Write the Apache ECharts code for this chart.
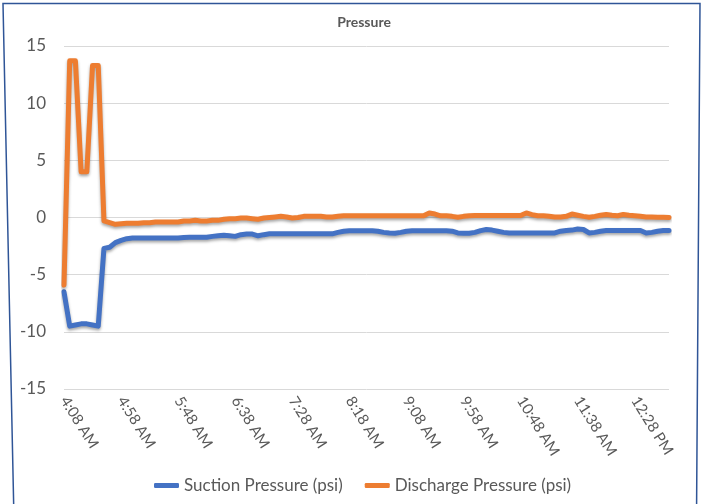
<!DOCTYPE html>
<html>
<head>
<meta charset="utf-8">
<script src="https://cdn.jsdelivr.net/npm/echarts@6/dist/echarts.min.js"></script>
<style>
  html, body { margin: 0; padding: 0; background: #fff; }
  #chart { width: 702px; height: 504px; }
</style>
</head>
<body>
<div id="chart"></div>
<script>
var times = [
    '4:08 AM', '4:13 AM', '4:18 AM', '4:23 AM', '4:28 AM', '4:33 AM', '4:38 AM', '4:43 AM', '4:48 AM', '4:53 AM',
    '4:58 AM', '5:03 AM', '5:08 AM', '5:13 AM', '5:18 AM', '5:23 AM', '5:28 AM', '5:33 AM', '5:38 AM', '5:43 AM',
    '5:48 AM', '5:53 AM', '5:58 AM', '6:03 AM', '6:08 AM', '6:13 AM', '6:18 AM', '6:23 AM', '6:28 AM', '6:33 AM',
    '6:38 AM', '6:43 AM', '6:48 AM', '6:53 AM', '6:58 AM', '7:03 AM', '7:08 AM', '7:13 AM', '7:18 AM', '7:23 AM',
    '7:28 AM', '7:33 AM', '7:38 AM', '7:43 AM', '7:48 AM', '7:53 AM', '7:58 AM', '8:03 AM', '8:08 AM', '8:13 AM',
    '8:18 AM', '8:23 AM', '8:28 AM', '8:33 AM', '8:38 AM', '8:43 AM', '8:48 AM', '8:53 AM', '8:58 AM', '9:03 AM',
    '9:08 AM', '9:13 AM', '9:18 AM', '9:23 AM', '9:28 AM', '9:33 AM', '9:38 AM', '9:43 AM', '9:48 AM', '9:53 AM',
    '9:58 AM', '10:03 AM', '10:08 AM', '10:13 AM', '10:18 AM', '10:23 AM', '10:28 AM', '10:33 AM', '10:38 AM', '10:43 AM',
    '10:48 AM', '10:53 AM', '10:58 AM', '11:03 AM', '11:08 AM', '11:13 AM', '11:18 AM', '11:23 AM', '11:28 AM', '11:33 AM',
    '11:38 AM', '11:43 AM', '11:48 AM', '11:53 AM', '11:58 AM', '12:03 PM', '12:08 PM', '12:13 PM', '12:18 PM', '12:23 PM',
    '12:28 PM', '12:33 PM', '12:38 PM', '12:43 PM', '12:48 PM', '12:53 PM', '12:58 PM'
];

var suction = [
    -6.5, -9.5, -9.4, -9.3, -9.3, -9.4, -9.5, -2.7, -2.6, -2.2,
    -2.0, -1.85, -1.8, -1.8, -1.8, -1.8, -1.8, -1.8, -1.8, -1.8,
    -1.8, -1.75, -1.72, -1.72, -1.72, -1.72, -1.65, -1.6, -1.55, -1.6,
    -1.65, -1.5, -1.45, -1.45, -1.6, -1.5, -1.43, -1.43, -1.43, -1.43,
    -1.43, -1.43, -1.43, -1.43, -1.43, -1.43, -1.43, -1.43, -1.3, -1.2,
    -1.15, -1.15, -1.15, -1.15, -1.15, -1.2, -1.3, -1.35, -1.37, -1.3,
    -1.2, -1.15, -1.15, -1.15, -1.15, -1.15, -1.15, -1.15, -1.2, -1.35,
    -1.37, -1.37, -1.3, -1.15, -1.05, -1.1, -1.2, -1.3, -1.35, -1.35,
    -1.35, -1.35, -1.35, -1.35, -1.35, -1.35, -1.35, -1.2, -1.14, -1.1,
    -1.0, -1.05, -1.35, -1.3, -1.2, -1.14, -1.14, -1.14, -1.14, -1.14,
    -1.14, -1.14, -1.35, -1.3, -1.2, -1.14, -1.14
];

var discharge = [
    -5.9, 13.7, 13.7, 4.0, 4.0, 13.3, 13.3, -0.3, -0.45, -0.6,
    -0.55, -0.5, -0.5, -0.5, -0.45, -0.45, -0.4, -0.4, -0.4, -0.4,
    -0.4, -0.3, -0.3, -0.25, -0.3, -0.3, -0.25, -0.25, -0.15, -0.1,
    -0.1, -0.05, -0.05, -0.1, -0.15, -0.05, 0.0, 0.05, 0.1, 0.05,
    -0.05, 0.0, 0.1, 0.1, 0.1, 0.1, 0.05, 0.05, 0.1, 0.15,
    0.15, 0.15, 0.15, 0.15, 0.15, 0.15, 0.15, 0.15, 0.15, 0.15,
    0.15, 0.15, 0.15, 0.15, 0.4, 0.3, 0.15, 0.15, 0.1, 0.03,
    0.1, 0.15, 0.17, 0.17, 0.17, 0.17, 0.17, 0.17, 0.17, 0.17,
    0.17, 0.4, 0.25, 0.15, 0.15, 0.1, 0.05, 0.05, 0.1, 0.3,
    0.2, 0.1, 0.03, 0.1, 0.2, 0.27, 0.2, 0.15, 0.27, 0.2,
    0.15, 0.1, 0.05, 0.05, 0.03, 0.03, 0.0
];

var yTicks = { min: -15, max: 15, step: 5 };

var textColor = '#595959';
var fontName = 'Lato';

var chart = echarts.init(document.getElementById('chart'));

function makeSeries(name, data, color) {
    return {
        name: name,
        type: 'line',
        data: data,
        showSymbol: false,
        symbol: 'none',
        lineStyle: {
            color: color,
            width: 5,
            cap: 'round',
            join: 'round',
            shadowColor: 'rgba(0,0,0,0.35)',
            shadowBlur: 3,
            shadowOffsetY: 2
        },
        itemStyle: { color: color },
        animation: false
    };
}

chart.setOption({
    animation: false,
    title: {
        text: 'Pressure',
        left: 359,
        top: 10,
        textAlign: 'center',
        textStyle: { fontFamily: fontName, fontSize: 14, fontWeight: 'bold', color: textColor }
    },
    legend: {
        bottom: 5,
        left: 149,
        icon: 'roundRect',
        itemWidth: 25,
        itemHeight: 5,
        itemGap: 22,
        textStyle: { fontFamily: fontName, fontSize: 17, color: textColor },
        data: ['Suction Pressure (psi)', 'Discharge Pressure (psi)']
    },
    grid: { left: 64, right: 33, top: 46, bottom: 115, containLabel: false },
    xAxis: {
        type: 'category',
        data: times,
        boundaryGap: false,
        axisLine: { lineStyle: { color: '#d9d9d9' } },
        axisTick: { show: false },
        axisLabel: {
            interval: 9,
            rotate: -58,
            margin: 9,
            fontFamily: fontName,
            fontSize: 15,
            color: textColor
        },
        splitLine: { show: false }
    },
    yAxis: {
        type: 'value',
        min: yTicks.min,
        max: yTicks.max,
        interval: yTicks.step,
        axisLine: { show: false },
        axisTick: { show: false },
        axisLabel: { margin: 18, fontFamily: fontName, fontSize: 17, color: textColor },
        splitLine: { lineStyle: { color: '#d9d9d9', width: 1 } }
    },
    series: [
        makeSeries('Suction Pressure (psi)', suction, '#4472C4'),
        makeSeries('Discharge Pressure (psi)', discharge, '#ED7D31')
    ],
    graphic: [{
        type: 'polyline',
        shape: { points: [[14, 520], [3, 3.5], [700, 3.5], [696.5, 520]] },
        style: { fill: 'none', stroke: '#2F5597', lineWidth: 1.5 },
        silent: true
    }]
});
</script>
</body>
</html>
